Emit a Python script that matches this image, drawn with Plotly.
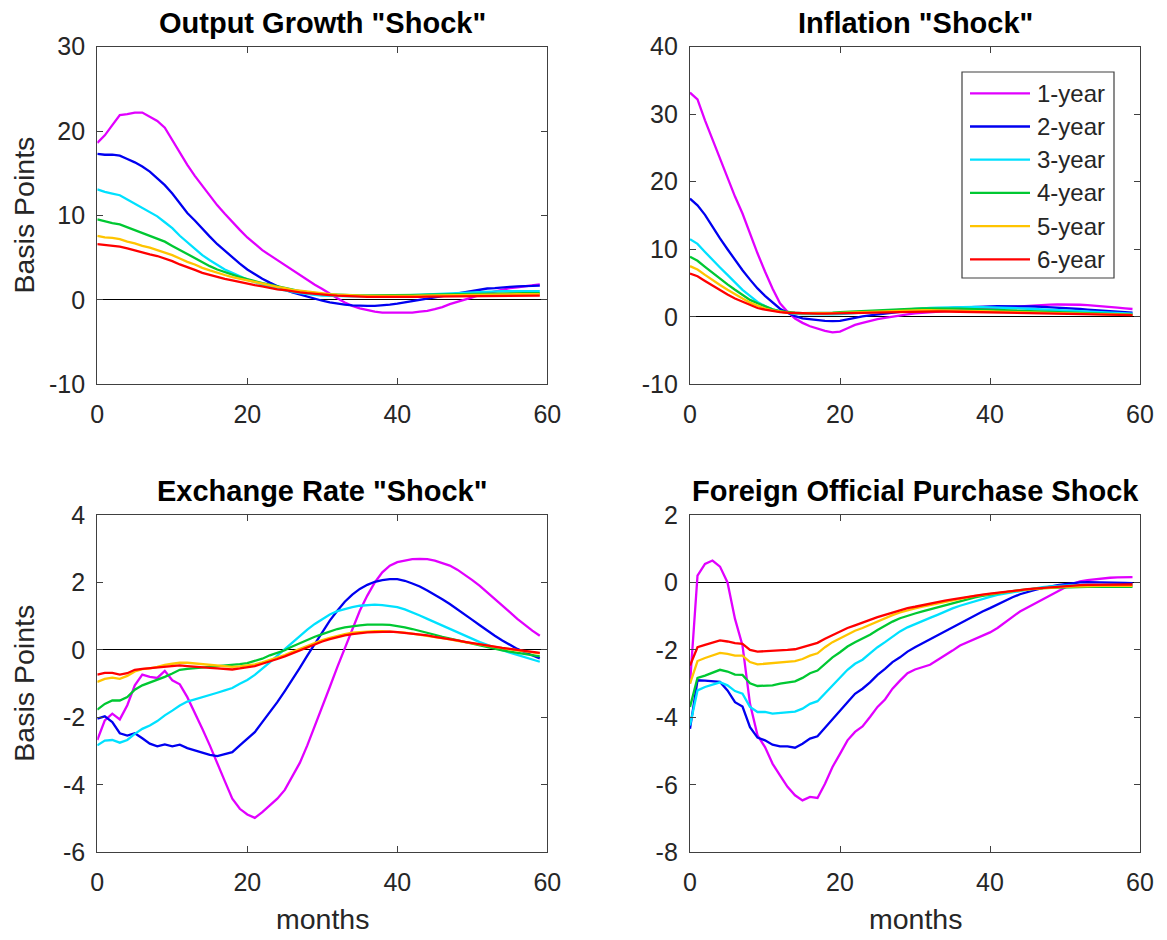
import plotly.graph_objects as go

# ---------------------------------------------------------------------------
# Impulse responses of zero-coupon yields (basis points), months 0..59
# ---------------------------------------------------------------------------
months = list(range(60))
maturities = ["1-year", "2-year", "3-year", "4-year", "5-year", "6-year"]
colors = ["#e100ff", "#0000f0", "#00e1ff", "#00c832", "#ffc400", "#ff0000"]

# Output growth "shock"
output_1y = [18.6, 19.5, 20.7, 21.9, 22.0, 22.2, 22.2, 21.7, 21.2, 20.4, 18.9, 17.4, 16.0, 14.7, 13.5,
             12.3, 11.2, 10.2, 9.2, 8.3, 7.4, 6.6, 5.9, 5.3, 4.7, 4.1, 3.5, 2.9, 2.3, 1.8, 1.3, 0.7,
             0.2, -0.3, -0.7, -1.0, -1.2, -1.4, -1.5, -1.5, -1.55, -1.55, -1.5, -1.4, -1.3, -1.1,
             -0.85, -0.5, -0.25, 0.05, 0.3, 0.6, 0.8, 1.0, 1.2, 1.4, 1.5, 1.6, 1.7, 1.85]
output_2y = [17.3, 17.2, 17.2, 17.1, 16.7, 16.3, 15.8, 15.2, 14.4, 13.6, 12.6, 11.4, 10.3, 9.4, 8.4,
             7.5, 6.6, 5.8, 5.05, 4.3, 3.6, 3.0, 2.5, 2.05, 1.6, 1.2, 0.9, 0.65, 0.4, 0.1, -0.1, -0.3,
             -0.45, -0.55, -0.65, -0.7, -0.7, -0.7, -0.65, -0.55, -0.45, -0.3, -0.15, 0.0, 0.15, 0.3,
             0.45, 0.6, 0.8, 0.95, 1.1, 1.2, 1.35, 1.4, 1.5, 1.55, 1.6, 1.6, 1.65, 1.7]
output_3y = [13.1, 12.8, 12.6, 12.4, 11.9, 11.4, 11.0, 10.5, 9.9, 9.2, 8.5, 7.6, 6.8, 6.0, 5.3, 4.7,
             4.1, 3.6, 3.2, 2.8, 2.4, 2.1, 1.8, 1.55, 1.3, 1.1, 0.95, 0.8, 0.67, 0.6, 0.52, 0.48,
             0.45, 0.43, 0.42, 0.42, 0.42, 0.43, 0.45, 0.47, 0.5, 0.53, 0.57, 0.62, 0.67, 0.72, 0.77,
             0.82, 0.86, 0.9, 0.94, 0.97, 1.0, 1.02, 1.03, 1.04, 1.05, 1.05, 1.05, 1.05]
output_4y = [9.55, 9.3, 9.1, 8.95, 8.6, 8.25, 7.9, 7.6, 7.2, 6.9, 6.4, 5.9, 5.4, 4.9, 4.4, 4.0, 3.6,
             3.3, 2.95, 2.7, 2.45, 2.2, 2.0, 1.8, 1.6, 1.4, 1.2, 1.05, 0.92, 0.8, 0.7, 0.65, 0.6,
             0.57, 0.55, 0.53, 0.52, 0.52, 0.52, 0.53, 0.54, 0.55, 0.57, 0.59, 0.61, 0.63, 0.65,
             0.67, 0.69, 0.71, 0.72, 0.74, 0.75, 0.76, 0.77, 0.78, 0.78, 0.79, 0.79, 0.8]
output_5y = [7.6, 7.4, 7.35, 7.2, 6.9, 6.7, 6.4, 6.2, 5.9, 5.6, 5.3, 4.9, 4.5, 4.2, 3.8, 3.5, 3.2,
             2.95, 2.7, 2.5, 2.3, 2.1, 1.9, 1.7, 1.55, 1.4, 1.2, 1.1, 0.98, 0.86, 0.75, 0.68, 0.62,
             0.57, 0.53, 0.5, 0.48, 0.47, 0.46, 0.46, 0.46, 0.47, 0.48, 0.5, 0.52, 0.54, 0.56, 0.58,
             0.6, 0.61, 0.62, 0.63, 0.64, 0.65, 0.66, 0.66, 0.67, 0.67, 0.67, 0.67]
output_6y = [6.6, 6.5, 6.4, 6.3, 6.1, 5.85, 5.65, 5.4, 5.2, 4.9, 4.6, 4.2, 3.9, 3.55, 3.2, 2.95, 2.7,
             2.5, 2.3, 2.1, 1.95, 1.75, 1.6, 1.4, 1.25, 1.15, 1.0, 0.9, 0.8, 0.7, 0.62, 0.56, 0.5,
             0.45, 0.41, 0.38, 0.36, 0.35, 0.34, 0.34, 0.34, 0.35, 0.36, 0.37, 0.38, 0.39, 0.41,
             0.42, 0.43, 0.44, 0.45, 0.46, 0.47, 0.48, 0.48, 0.49, 0.49, 0.5, 0.5, 0.5]

# Inflation "shock"
inflation_1y = [33.2, 32.2, 29.1, 26.2, 23.5, 20.7, 17.8, 15.3, 12.3, 9.4, 6.7, 4.2, 2.0, 0.75, -0.25,
                -0.9, -1.4, -1.8, -2.1, -2.3, -2.2, -1.7, -1.2, -0.9, -0.6, -0.35, -0.15, 0.05, 0.2,
                0.35, 0.5, 0.6, 0.7, 0.78, 0.85, 0.93, 1.0, 1.08, 1.15, 1.23, 1.3, 1.38, 1.45, 1.52,
                1.6, 1.65, 1.7, 1.75, 1.8, 1.82, 1.83, 1.82, 1.78, 1.72, 1.65, 1.55, 1.45, 1.35, 1.25,
                1.15]
inflation_2y = [17.5, 16.5, 15.1, 13.3, 11.6, 10.0, 8.4, 6.9, 5.5, 4.2, 3.1, 2.1, 1.2, 0.6, 0.1, -0.25,
                -0.4, -0.5, -0.6, -0.65, -0.6, -0.4, -0.15, 0.05, 0.2, 0.35, 0.47, 0.6, 0.72, 0.83,
                0.93, 1.02, 1.1, 1.18, 1.25, 1.32, 1.38, 1.43, 1.48, 1.52, 1.55, 1.57, 1.58, 1.58,
                1.57, 1.55, 1.52, 1.48, 1.43, 1.37, 1.3, 1.23, 1.15, 1.07, 0.99, 0.91, 0.83, 0.75,
                0.67, 0.6]
inflation_3y = [11.5, 10.8, 9.6, 8.4, 7.3, 6.2, 5.1, 4.0, 3.1, 2.2, 1.6, 1.1, 0.75, 0.55, 0.45, 0.4,
                0.37, 0.35, 0.35, 0.37, 0.4, 0.45, 0.52, 0.6, 0.69, 0.78, 0.87, 0.96, 1.04, 1.12,
                1.19, 1.25, 1.3, 1.35, 1.39, 1.42, 1.44, 1.45, 1.45, 1.44, 1.42, 1.39, 1.35, 1.3, 1.25,
                1.19, 1.13, 1.07, 1.01, 0.95, 0.89, 0.83, 0.77, 0.72, 0.67, 0.62, 0.57, 0.53, 0.49,
                0.45]
inflation_4y = [8.9, 8.3, 7.4, 6.5, 5.6, 4.8, 4.0, 3.2, 2.5, 2.0, 1.5, 1.1, 0.85, 0.7, 0.6, 0.55, 0.55,
                0.56, 0.58, 0.62, 0.67, 0.73, 0.8, 0.87, 0.94, 1.0, 1.06, 1.11, 1.15, 1.19, 1.22, 1.24,
                1.25, 1.25, 1.24, 1.22, 1.2, 1.17, 1.13, 1.09, 1.05, 1.0, 0.95, 0.9, 0.85, 0.8, 0.75,
                0.7, 0.65, 0.61, 0.57, 0.53, 0.49, 0.46, 0.43, 0.4, 0.37, 0.35, 0.33, 0.31]
inflation_5y = [7.5, 7.0, 6.2, 5.4, 4.7, 4.0, 3.3, 2.7, 2.1, 1.6, 1.2, 0.95, 0.75, 0.6, 0.55, 0.52,
                0.5, 0.5, 0.52, 0.55, 0.59, 0.64, 0.69, 0.74, 0.79, 0.84, 0.88, 0.92, 0.95, 0.97, 0.98,
                0.99, 0.99, 0.98, 0.97, 0.95, 0.93, 0.9, 0.87, 0.84, 0.81, 0.77, 0.74, 0.7, 0.67, 0.63,
                0.6, 0.56, 0.53, 0.5, 0.47, 0.44, 0.41, 0.39, 0.36, 0.34, 0.32, 0.3, 0.28, 0.27]
inflation_6y = [6.4, 6.0, 5.3, 4.6, 4.0, 3.3, 2.7, 2.2, 1.7, 1.3, 1.05, 0.85, 0.7, 0.6, 0.55, 0.5,
                0.48, 0.47, 0.48, 0.5, 0.53, 0.56, 0.6, 0.64, 0.68, 0.71, 0.74, 0.76, 0.78, 0.79, 0.8,
                0.8, 0.8, 0.79, 0.78, 0.76, 0.74, 0.72, 0.7, 0.67, 0.65, 0.62, 0.59, 0.56, 0.53, 0.5,
                0.48, 0.45, 0.43, 0.4, 0.38, 0.36, 0.34, 0.32, 0.3, 0.28, 0.27, 0.26, 0.25, 0.24]

# Exchange rate "shock"
fx_1y = [-2.67, -2.09, -1.89, -2.06, -1.64, -1.05, -0.73, -0.8, -0.83, -0.62, -0.9, -1.02, -1.4,
         -1.85, -2.34, -2.83, -3.38, -3.89, -4.41, -4.71, -4.88, -4.98, -4.81, -4.61, -4.41, -4.15,
         -3.77, -3.35, -2.83, -2.27, -1.7, -1.1, -0.51, 0.06, 0.6, 1.16, 1.61, 2.0, 2.3, 2.5, 2.6,
         2.65, 2.69, 2.7, 2.69, 2.65, 2.58, 2.5, 2.38, 2.23, 2.07, 1.9, 1.71, 1.51, 1.31, 1.12, 0.92,
         0.74, 0.57, 0.42]
fx_2y = [-2.04, -1.97, -2.14, -2.47, -2.54, -2.47, -2.62, -2.78, -2.86, -2.8, -2.86, -2.81, -2.91,
         -2.98, -3.05, -3.11, -3.15, -3.1, -3.03, -2.83, -2.64, -2.44, -2.14, -1.85, -1.55, -1.22,
         -0.89, -0.53, -0.17, 0.18, 0.52, 0.87, 1.16, 1.43, 1.64, 1.81, 1.93, 2.02, 2.07, 2.1, 2.1,
         2.05, 1.97, 1.88, 1.76, 1.64, 1.5, 1.36, 1.21, 1.05, 0.89, 0.73, 0.57, 0.42, 0.28, 0.15,
         0.03, -0.07, -0.17, -0.25]
fx_3y = [-2.83, -2.69, -2.67, -2.75, -2.67, -2.49, -2.34, -2.24, -2.11, -1.94, -1.8, -1.65, -1.53,
         -1.47, -1.4, -1.33, -1.27, -1.2, -1.13, -1.0, -0.89, -0.74, -0.56, -0.37, -0.17, 0.03, 0.23,
         0.42, 0.6, 0.77, 0.92, 1.05, 1.15, 1.22, 1.27, 1.31, 1.33, 1.34, 1.33, 1.31, 1.27, 1.2,
         1.12, 1.02, 0.92, 0.82, 0.72, 0.62, 0.52, 0.42, 0.33, 0.23, 0.15, 0.06, -0.01, -0.08,
         -0.15, -0.22, -0.29, -0.35]
fx_4y = [-1.77, -1.6, -1.5, -1.5, -1.4, -1.18, -1.05, -0.97, -0.9, -0.8, -0.7, -0.59, -0.56, -0.54,
         -0.52, -0.5, -0.49, -0.48, -0.46, -0.42, -0.39, -0.33, -0.26, -0.16, -0.08, -0.01, 0.1, 0.2,
         0.3, 0.39, 0.47, 0.55, 0.62, 0.67, 0.71, 0.73, 0.75, 0.76, 0.75, 0.74, 0.71, 0.67, 0.62,
         0.57, 0.51, 0.45, 0.39, 0.34, 0.28, 0.22, 0.17, 0.12, 0.07, 0.03, -0.01, -0.05, -0.09,
         -0.13, -0.16, -0.19]
fx_5y = [-0.95, -0.86, -0.82, -0.86, -0.77, -0.64, -0.57, -0.55, -0.5, -0.44, -0.41, -0.38, -0.38,
         -0.4, -0.42, -0.44, -0.46, -0.48, -0.5, -0.49, -0.47, -0.43, -0.37, -0.3, -0.23, -0.15,
         -0.06, 0.03, 0.12, 0.21, 0.29, 0.36, 0.42, 0.47, 0.51, 0.53, 0.55, 0.56, 0.56, 0.55, 0.54,
         0.51, 0.48, 0.45, 0.42, 0.38, 0.35, 0.31, 0.27, 0.23, 0.19, 0.15, 0.11, 0.08, 0.05, 0.02,
         -0.01, -0.04, -0.07, -0.1]
fx_6y = [-0.73, -0.68, -0.68, -0.73, -0.69, -0.59, -0.56, -0.54, -0.53, -0.49, -0.48, -0.46, -0.48,
         -0.49, -0.51, -0.53, -0.55, -0.56, -0.58, -0.55, -0.52, -0.48, -0.41, -0.35, -0.27, -0.19,
         -0.1, -0.01, 0.08, 0.17, 0.25, 0.32, 0.38, 0.43, 0.47, 0.5, 0.52, 0.53, 0.54, 0.54, 0.53,
         0.51, 0.49, 0.46, 0.43, 0.39, 0.36, 0.32, 0.28, 0.24, 0.2, 0.16, 0.12, 0.09, 0.06, 0.03,
         0.0, -0.03, -0.06, -0.09]

# Foreign official purchase shock
fop_1y = [-3.0, 0.2, 0.55, 0.65, 0.47, 0.0, -1.08, -1.87, -3.6, -4.53, -4.88, -5.37, -5.72, -6.06,
          -6.31, -6.46, -6.36, -6.39, -5.97, -5.47, -5.08, -4.68, -4.43, -4.27, -3.99, -3.69, -3.47,
          -3.15, -2.91, -2.69, -2.58, -2.51, -2.44, -2.3, -2.17, -2.02, -1.87, -1.77, -1.67, -1.58,
          -1.48, -1.35, -1.18, -1.01, -0.86, -0.74, -0.62, -0.5, -0.37, -0.26, -0.15, -0.05, 0.03,
          0.07, 0.1, 0.12, 0.14, 0.15, 0.15, 0.16]
fop_2y = [-4.34, -2.9, -2.91, -2.92, -2.95, -3.2, -3.55, -3.68, -4.29, -4.6, -4.68, -4.81, -4.86,
          -4.86, -4.9, -4.78, -4.63, -4.56, -4.3, -4.04, -3.79, -3.55, -3.3, -3.15, -2.96, -2.74,
          -2.56, -2.36, -2.22, -2.05, -1.92, -1.8, -1.7, -1.58, -1.45, -1.33, -1.2, -1.08, -0.97,
          -0.86, -0.76, -0.65, -0.54, -0.44, -0.35, -0.28, -0.22, -0.17, -0.12, -0.08, -0.05, -0.02,
          0.0, 0.01, 0.01, 0.01, 0.0, 0.0, -0.01, -0.02]
fop_3y = [-4.24, -3.2, -3.1, -3.02, -2.96, -3.05, -3.22, -3.3, -3.69, -3.84, -3.84, -3.89, -3.87,
          -3.84, -3.83, -3.74, -3.6, -3.52, -3.28, -3.05, -2.81, -2.59, -2.41, -2.29, -2.1, -1.92,
          -1.77, -1.61, -1.45, -1.33, -1.23, -1.15, -1.05, -0.96, -0.86, -0.77, -0.69, -0.62, -0.55,
          -0.49, -0.43, -0.37, -0.33, -0.28, -0.24, -0.2, -0.17, -0.14, -0.12, -0.1, -0.09, -0.08,
          -0.08, -0.08, -0.08, -0.08, -0.08, -0.08, -0.08, -0.08]
fop_4y = [-3.69, -2.83, -2.76, -2.68, -2.59, -2.64, -2.73, -2.74, -2.99, -3.07, -3.05, -3.05, -3.0,
          -2.96, -2.93, -2.83, -2.69, -2.61, -2.41, -2.22, -2.07, -1.9, -1.77, -1.67, -1.55, -1.41,
          -1.28, -1.16, -1.06, -0.98, -0.92, -0.86, -0.8, -0.73, -0.66, -0.6, -0.54, -0.49, -0.44,
          -0.4, -0.36, -0.33, -0.29, -0.26, -0.23, -0.2, -0.18, -0.17, -0.16, -0.15, -0.14, -0.14,
          -0.13, -0.13, -0.13, -0.13, -0.13, -0.13, -0.13, -0.13]
fop_5y = [-3.0, -2.33, -2.24, -2.17, -2.09, -2.12, -2.17, -2.17, -2.36, -2.43, -2.41, -2.41, -2.38,
          -2.35, -2.33, -2.27, -2.17, -2.1, -1.92, -1.77, -1.65, -1.53, -1.43, -1.35, -1.25, -1.15,
          -1.05, -0.97, -0.89, -0.82, -0.77, -0.72, -0.67, -0.62, -0.57, -0.52, -0.48, -0.44, -0.4,
          -0.37, -0.34, -0.32, -0.29, -0.26, -0.23, -0.21, -0.19, -0.17, -0.15, -0.14, -0.13, -0.12,
          -0.11, -0.11, -0.1, -0.1, -0.1, -0.1, -0.1, -0.1]
fop_6y = [-2.46, -1.92, -1.85, -1.79, -1.72, -1.75, -1.8, -1.82, -2.0, -2.05, -2.04, -2.04, -2.02,
          -2.0, -1.98, -1.92, -1.84, -1.79, -1.67, -1.56, -1.45, -1.35, -1.27, -1.2, -1.11, -1.03,
          -0.96, -0.88, -0.82, -0.76, -0.72, -0.67, -0.63, -0.59, -0.54, -0.5, -0.46, -0.42, -0.39,
          -0.36, -0.33, -0.31, -0.28, -0.25, -0.23, -0.2, -0.18, -0.16, -0.14, -0.12, -0.1, -0.09,
          -0.08, -0.07, -0.07, -0.06, -0.06, -0.06, -0.06, -0.06]

panel_titles = ['Output Growth "Shock"', 'Inflation "Shock"',
                'Exchange Rate "Shock"', 'Foreign Official Purchase Shock']
panel_series = [
    [output_1y, output_2y, output_3y, output_4y, output_5y, output_6y],
    [inflation_1y, inflation_2y, inflation_3y, inflation_4y, inflation_5y, inflation_6y],
    [fx_1y, fx_2y, fx_3y, fx_4y, fx_5y, fx_6y],
    [fop_1y, fop_2y, fop_3y, fop_4y, fop_5y, fop_6y],
]
panel_yticks = [
    [-10, 0, 10, 20, 30],
    [-10, 0, 10, 20, 30, 40],
    [-6, -4, -2, 0, 2, 4],
    [-8, -6, -4, -2, 0, 2],
]
x_ticks = [0, 20, 40, 60]

# ---------------------------------------------------------------------------
# Page geometry (pixels)
# ---------------------------------------------------------------------------
W, H = 1167, 940
FONT = "Liberation Sans, Arial, Helvetica, sans-serif"
AX_COLOR = "#404040"
TXT_COLOR = "#262626"

col_px = [(97.3, 547.3), (690.0, 1140.0)]
row_px = [(46.7, 384.3), (515.0, 852.3)]


def fx_(px):
    return px / W


def fy_(py):
    return 1 - py / H


fig = go.Figure()
layout = dict(
    width=W, height=H, autosize=False,
    margin=dict(l=0, r=0, t=0, b=0, pad=0),
    paper_bgcolor="white", plot_bgcolor="white",
    showlegend=False,
    font=dict(family=FONT, color=TXT_COLOR, size=24),
)
annotations = []
shapes = []

for i in range(4):
    r, c = divmod(i, 2)
    sfx = "" if i == 0 else str(i + 1)
    xa, ya = "x" + sfx, "y" + sfx
    for name, col, vals in zip(maturities, colors, panel_series[i]):
        fig.add_trace(go.Scatter(
            x=months, y=vals, mode="lines", name=name,
            line=dict(color=col, width=2.3),
            xaxis=xa, yaxis=ya, showlegend=False,
        ))
    common = dict(
        showline=True, linecolor=AX_COLOR, linewidth=1.3, mirror="ticks",
        ticks="inside", ticklen=6, tickwidth=1.2, tickcolor=AX_COLOR,
        showgrid=False, automargin=False,
        tickfont=dict(family=FONT, size=25, color=TXT_COLOR),
    )
    layout["xaxis" + sfx] = dict(
        common, domain=[fx_(col_px[c][0]), fx_(col_px[c][1])], anchor=ya,
        range=[0, 60], tickvals=x_ticks, ticktext=[str(v) for v in x_ticks],
        zeroline=False, ticklabelstandoff=8,
    )
    yt = panel_yticks[i]
    layout["yaxis" + sfx] = dict(
        common, domain=[fy_(row_px[r][1]), fy_(row_px[r][0])], anchor=xa,
        range=[yt[0], yt[-1]], tickvals=yt, ticktext=[str(v) for v in yt],
        zeroline=True, zerolinecolor="black", zerolinewidth=1.3,
        ticklabelstandoff=6,
    )
    # subplot title
    annotations.append(dict(
        text="<b>%s</b>" % panel_titles[i], xref="paper", yref="paper",
        x=fx_((col_px[c][0] + col_px[c][1]) / 2), y=fy_(row_px[r][0] - 24),
        xanchor="center", yanchor="middle", showarrow=False,
        font=dict(family=FONT, size=29, color="black"),
    ))

# y-axis labels on the left column, x-axis labels under the bottom row
for r in range(2):
    annotations.append(dict(
        text="Basis Points", xref="paper", yref="paper",
        x=fx_(24), y=fy_((row_px[r][0] + row_px[r][1]) / 2),
        xanchor="center", yanchor="middle", textangle=-90, showarrow=False,
        font=dict(family=FONT, size=28.5, color=TXT_COLOR),
    ))
for c in range(2):
    annotations.append(dict(
        text="months", xref="paper", yref="paper",
        x=fx_((col_px[c][0] + col_px[c][1]) / 2), y=fy_(919),
        xanchor="center", yanchor="middle", showarrow=False,
        font=dict(family=FONT, size=28.5, color=TXT_COLOR),
    ))

# legend box inside the inflation panel
leg_left, leg_top, leg_right, leg_bottom = 962, 72, 1114, 278
leg_row0, leg_step = 93.3, 33.2
shapes.append(dict(
    type="rect", xref="paper", yref="paper",
    x0=fx_(leg_left), x1=fx_(leg_right), y0=fy_(leg_bottom), y1=fy_(leg_top),
    line=dict(color=AX_COLOR, width=1.2), fillcolor="white", layer="above",
))
for k, (name, col) in enumerate(zip(maturities, colors)):
    yk = leg_row0 + k * leg_step
    shapes.append(dict(
        type="line", xref="paper", yref="paper",
        x0=fx_(leg_left + 8), x1=fx_(leg_left + 68), y0=fy_(yk), y1=fy_(yk),
        line=dict(color=col, width=2.3), layer="above",
    ))
    annotations.append(dict(
        text=name, xref="paper", yref="paper",
        x=fx_(leg_left + 73), y=fy_(yk), xanchor="left", yanchor="middle",
        showarrow=False, font=dict(family=FONT, size=24, color=TXT_COLOR),
    ))

layout["annotations"] = annotations
layout["shapes"] = shapes
fig.update_layout(**layout)
fig.write_html("out.html")
